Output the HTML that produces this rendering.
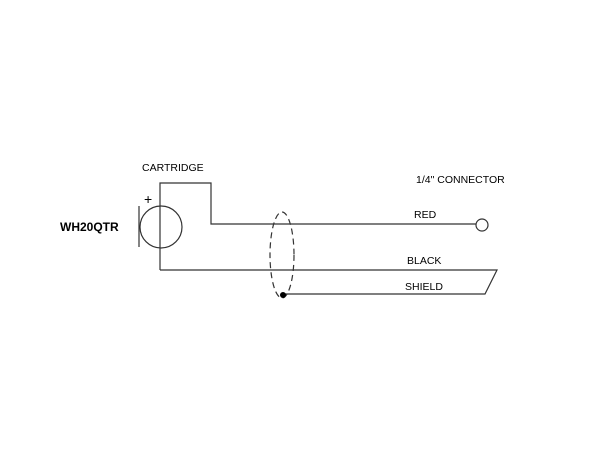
<!DOCTYPE html>
<html><head><style>body{margin:0;background:#fff}</style></head><body>
<svg width="600" height="450" xmlns="http://www.w3.org/2000/svg" font-family="Liberation Sans, sans-serif" font-size="10.5" fill="#000">
<g stroke="#333" stroke-width="1.2" fill="none">
<polyline points="160,270 160,183 211,183 211,224 476,224"/>
<circle cx="161" cy="227" r="21"/>
<line x1="139" y1="206" x2="139" y2="247"/>
<polyline points="160,270 497,270 485,294 283,294"/>
<circle cx="482" cy="225" r="6"/>
<ellipse cx="282" cy="255" rx="12" ry="43" stroke-dasharray="6,4"/>
</g>
<circle cx="283" cy="295" r="3" fill="#000"/>
<text x="144" y="204" font-size="14">+</text>
<text x="142" y="171">CARTRIDGE</text>
<text x="60" y="231" font-weight="bold" font-size="12">WH20QTR</text>
<text x="416" y="183">1/4" CONNECTOR</text>
<text x="414" y="218">RED</text>
<text x="407" y="264">BLACK</text>
<text x="405" y="290">SHIELD</text>
</svg>
</body></html>
